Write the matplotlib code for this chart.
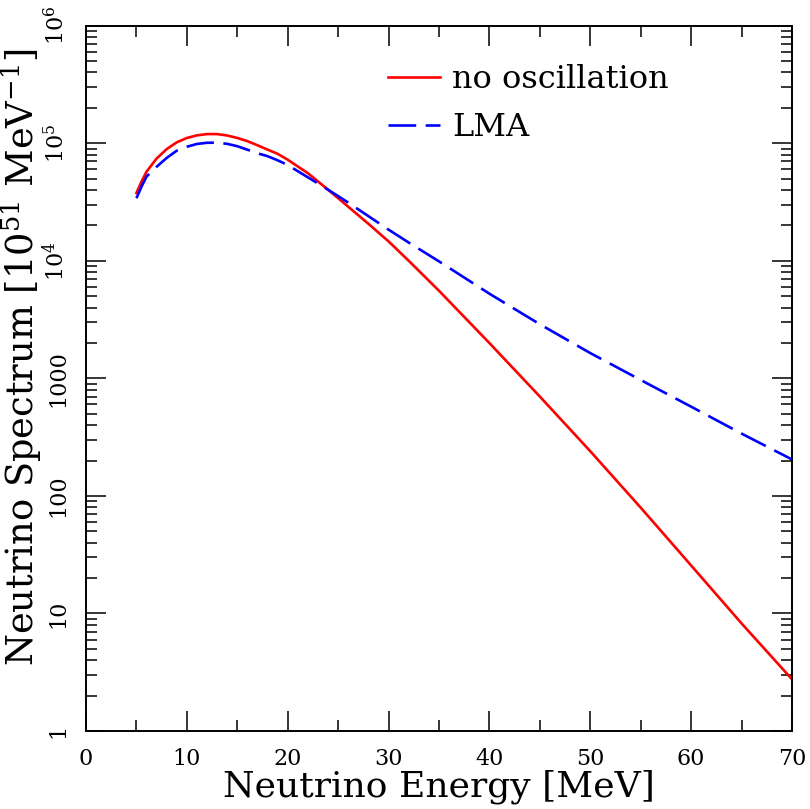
import numpy as np
import matplotlib
matplotlib.use("Agg")
import matplotlib.pyplot as plt
from matplotlib.ticker import FixedLocator, FuncFormatter, MultipleLocator, LogLocator, NullFormatter

# Data (log10 of spectrum)
energy = [5, 5.5, 6, 7, 8, 9, 10, 11, 12, 13, 14, 15, 16, 17, 18, 19, 20,
          22, 24, 26, 28, 30, 32, 35, 40, 45, 50, 55, 60, 65, 70]
log_no_osc = [4.577, 4.673, 4.758, 4.87, 4.95, 5.008, 5.045, 5.067, 5.078, 5.078,
              5.066, 5.045, 5.018, 4.983, 4.946, 4.91, 4.86,
              4.745, 4.605, 4.46, 4.315, 4.165, 4.0, 3.745, 3.30, 2.845, 2.38,
              1.90, 1.408, 0.915, 0.44]
log_lma = [4.532, 4.63, 4.716, 4.80, 4.875, 4.937, 4.97, 4.994, 5.004, 5.005,
           4.995, 4.975, 4.945, 4.915, 4.89, 4.855, 4.815,
           4.71, 4.605, 4.495, 4.38, 4.265, 4.155, 3.995, 3.72, 3.46, 3.215,
           2.986, 2.759, 2.53, 2.31]
series_labels = ["no oscillation", "LMA"]
x_ticks = [0, 10, 20, 30, 40, 50, 60, 70]
y_ticks = [1, 10, 100, 1000, 1e4, 1e5, 1e6]

plt.rcParams['font.family'] = ['DejaVu Serif']
plt.rcParams['mathtext.fontset'] = 'dejavuserif'

fig = plt.figure(figsize=(8.10, 8.09), dpi=100)
ax = fig.add_axes([86/810, 78/809, 706/810, 705.3/809])

e = np.array(energy)
ax.plot(e, 10**np.array(log_no_osc), color='#ff0000', lw=1.9, label=series_labels[0])
ax.plot(e, 10**np.array(log_lma), color='#0000ff', lw=1.9, dashes=(10.5, 3.6),
        label=series_labels[1])

ax.set_yscale('log')
ax.set_xlim(0, 70)
ax.set_ylim(1, 1e6)

ax.xaxis.set_major_locator(FixedLocator(x_ticks))
ax.xaxis.set_minor_locator(MultipleLocator(5))
ax.yaxis.set_major_locator(FixedLocator(y_ticks))
ax.yaxis.set_minor_locator(LogLocator(base=10, subs=np.arange(2, 10)))
ax.yaxis.set_minor_formatter(NullFormatter())

def yfmt(v, pos):
    if v < 1e4:
        return "%d" % int(round(v))
    return r"$10^{%d}$" % int(round(np.log10(v)))
ax.yaxis.set_major_formatter(FuncFormatter(yfmt))

ax.tick_params(which='both', direction='in', top=True, right=True, width=1.1, color='black')
ax.tick_params(which='major', length=14.5)
ax.tick_params(which='minor', length=7.7)
ax.tick_params(axis='x', labelsize=16, pad=12)
ax.tick_params(axis='y', labelsize=16, pad=12)
for lab in ax.get_yticklabels():
    lab.set_rotation(90)
    lab.set_va('center')
for s in ax.spines.values():
    s.set_linewidth(1.4)

ax.set_xlabel("Neutrino Energy [MeV]", fontsize=26, labelpad=0)
ax.set_ylabel(r"Neutrino Spectrum [10$^{51}$ MeV$^{-1}$]", fontsize=26.5)
ax.yaxis.set_label_coords(-0.059, 0.53)

leg = ax.legend(loc='upper left', bbox_to_anchor=(0.428, 0.945), frameon=False,
                fontsize=23, handlelength=1.63, handletextpad=0.38, labelspacing=0.52,
                borderpad=0, borderaxespad=0)

fig.savefig("out.png", dpi=100)
